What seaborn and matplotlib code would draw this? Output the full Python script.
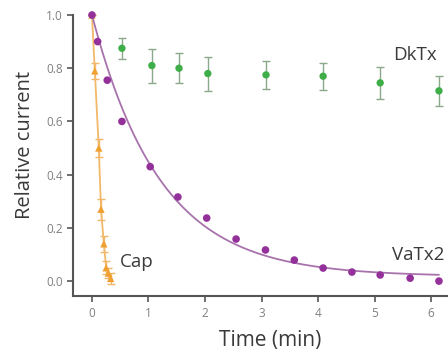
import numpy as np
import pandas as pd
import matplotlib
matplotlib.use("Agg")
import matplotlib.pyplot as plt
import seaborn as sns

# ---- data ----
vatx_t = [0.0, 0.1, 0.27, 0.53, 1.03, 1.52, 2.03, 2.55, 3.07, 3.58, 4.09, 4.6, 5.1, 5.63, 6.14]
vatx_y = [1.0, 0.90, 0.755, 0.60, 0.43, 0.316, 0.237, 0.158, 0.117, 0.079, 0.049, 0.034, 0.023, 0.011, 0.0]

cap_t = [0.0, 0.05, 0.12, 0.16, 0.21, 0.25, 0.29, 0.33]
cap_y = [1.0, 0.79, 0.50, 0.27, 0.14, 0.05, 0.03, 0.01]
cap_err = [0.0, 0.03, 0.035, 0.04, 0.03, 0.025, 0.02, 0.02]

dk_t = [0.53, 1.06, 1.54, 2.05, 3.08, 4.09, 5.1, 6.14]
dk_y = [0.875, 0.81, 0.80, 0.78, 0.775, 0.77, 0.745, 0.715]
dk_err = [0.04, 0.064, 0.056, 0.064, 0.053, 0.05, 0.06, 0.056]

x_ticks = [0, 1, 2, 3, 4, 5, 6]
y_ticks = [0.0, 0.2, 0.4, 0.6, 0.8, 1.0]

PURPLE = "#93309a"
PURPLE_LINE = "#a873ad"
ORANGE = "#f0a030"
ORANGE_LINE = "#f2b86a"
GREEN = "#3fae49"
GREEN_ERR = "#8aa88a"
TXT = "#3a3a3a"

sns.set_theme(style="ticks")
plt.rcParams["font.family"] = ["Open Sans", "DejaVu Sans"]

vatx = pd.DataFrame({"t": vatx_t, "y": vatx_y})
cap = pd.DataFrame({"t": cap_t, "y": cap_y})
dk = pd.DataFrame({"t": dk_t, "y": dk_y})

# single exponential fit (y = (1-C) exp(-t/tau) + C) to the VaTx2 data, by grid search
t_arr = np.array(vatx_t)
y_arr = np.array(vatx_y)
best = None
for tau in np.linspace(0.5, 3.0, 251):
    for c in np.linspace(-0.05, 0.1, 61):
        pred = (1 - c) * np.exp(-t_arr / tau) + c
        err = np.sum((pred - y_arr) ** 2)
        if best is None or err < best[0]:
            best = (err, tau, c)
_, tau_fit, c_fit = best
fit_t = np.linspace(0, 6.14, 200)
fit = pd.DataFrame({"t": fit_t, "y": (1 - c_fit) * np.exp(-fit_t / tau_fit) + c_fit})

fig = plt.figure(figsize=(4.48, 3.51), dpi=100)
ax = fig.add_axes([73 / 448, 55 / 351, 375 / 448, 281 / 351])

# Cap (orange)
ax.errorbar(cap_t, cap_y, yerr=cap_err, fmt="none", ecolor=ORANGE_LINE, elinewidth=1,
            capsize=3, capthick=1, zorder=2, clip_on=False)
sns.lineplot(data=cap, x="t", y="y", ax=ax, color=ORANGE_LINE, lw=1.3, zorder=2,
             sort=False, estimator=None)
sns.scatterplot(data=cap, x="t", y="y", ax=ax, color=ORANGE, marker="^", s=28,
                edgecolor="none", zorder=3, clip_on=False)

# VaTx2 (purple)
sns.lineplot(data=fit, x="t", y="y", ax=ax, color=PURPLE_LINE, lw=1.3, zorder=4)
sns.scatterplot(data=vatx, x="t", y="y", ax=ax, color=PURPLE, marker="o", s=30,
                edgecolor="none", zorder=5, clip_on=False)

# DkTx (green)
ax.errorbar(dk_t, dk_y, yerr=dk_err, fmt="none", ecolor=GREEN_ERR, elinewidth=1,
            capsize=3, capthick=1, zorder=2)
sns.scatterplot(data=dk, x="t", y="y", ax=ax, color=GREEN, marker="o", s=28,
                edgecolor="none", zorder=3)

ax.set_xlim(-0.336, 6.3)
ax.set_ylim(-0.056, 1.0)
ax.set_xticks(x_ticks)
ax.set_xticklabels([str(v) for v in x_ticks])
ax.set_yticks(y_ticks)
ax.set_yticklabels([f"{v:.1f}" for v in y_ticks])
ax.tick_params(axis="both", colors="#555555", labelcolor="#808080", labelsize=8.5,
               length=4, width=1.2)
ax.tick_params(axis="x", pad=4)

for side in ["top", "right"]:
    ax.spines[side].set_visible(False)
for side in ["left", "bottom"]:
    ax.spines[side].set_color("#555555")
    ax.spines[side].set_linewidth(1.5)

ax.set_xlabel("Time (min)", fontsize=15, color=TXT)
ax.set_ylabel("Relative current", fontsize=14.5, color=TXT)
ax.xaxis.set_label_coords(0.525, -0.157)
ax.yaxis.set_label_coords(-0.128, 0.537)
ax.xaxis.label.set_va("center")
ax.yaxis.label.set_va("center")

ax.text(0.5, 0.07, "Cap", fontsize=13.5, color=TXT, ha="left", va="center")
ax.text(5.72, 0.85, "DkTx", fontsize=13.5, color=TXT, ha="center", va="center")
ax.text(5.31, 0.098, "VaTx2", fontsize=13.5, color=TXT, ha="left", va="center",
        clip_on=False)

fig.savefig("out.png", dpi=100, facecolor="white")
